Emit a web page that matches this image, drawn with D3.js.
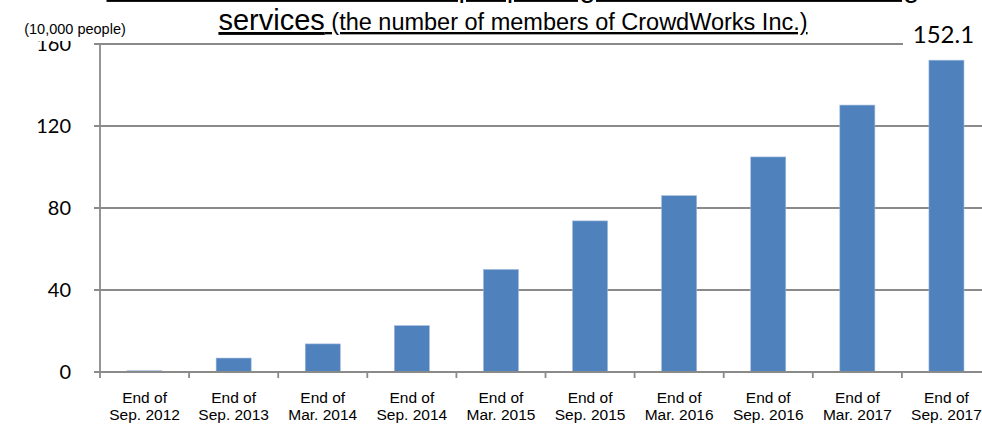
<!DOCTYPE html>
<html>
<head>
<meta charset="utf-8">
<script src="https://cdn.jsdelivr.net/npm/d3@7"></script>
<style>
  html, body { margin: 0; padding: 0; background: #fff; overflow: hidden; }
  svg { display: block; }
</style>
</head>
<body>
<svg id="chart" width="982" height="426"></svg>
<script>
// Registered members, in units of 10,000 people
const periods = ["Sep. 2012", "Sep. 2013", "Mar. 2014", "Sep. 2014", "Mar. 2015",
                 "Sep. 2015", "Mar. 2016", "Sep. 2016", "Mar. 2017", "Sep. 2017"];
const members = [0.6, 6.8, 13.7, 22.6, 50.0, 73.7, 86.0, 104.9, 130.2, 152.1];
const yTicks = [0, 40, 80, 120, 160];
const periodPrefix = "End of";
const unitLabel = "(10,000 people)";
const titleLine1 = "Transition in the number of people registered for crowdsourcing";
const titleLead = "services";
const titleNote = " (the number of members of CrowdWorks Inc.)";

const W = 982, H = 426;
const plot = { left: 100, right: 991, top: 44, bottom: 372 };
const sans = "'Liberation Sans', Arial, sans-serif";
const numFont = "Lato, 'Open Sans', sans-serif";
const gridColor = "#8a8a8a";
const barColor = "#4f81bd";

const svg = d3.select("#chart");

const x = d3.scaleBand()
  .domain(periods)
  .range([plot.left, plot.right])
  .paddingInner(0.607)
  .paddingOuter(0.3035);

const y = d3.scaleLinear()
  .domain([0, d3.max(yTicks)])
  .range([plot.bottom, plot.top]);

// horizontal gridlines (extend left past the axis as tick marks)
svg.append("g")
  .selectAll("line")
  .data(yTicks.filter(d => d > 0))
  .join("line")
  .attr("x1", plot.left - 6)
  .attr("x2", W)
  .attr("y1", d => y(d))
  .attr("y2", d => y(d))
  .attr("stroke", gridColor)
  .attr("stroke-width", 1.8);

// bars
svg.append("g")
  .selectAll("rect")
  .data(members)
  .join("rect")
  .attr("x", (d, i) => x(periods[i]))
  .attr("width", x.bandwidth())
  .attr("y", d => y(d))
  .attr("height", d => y(0) - y(d))
  .attr("fill", barColor)
  .attr("stroke", "#9db8da")
  .attr("stroke-width", 0.6);

// category axis with boundary ticks
const gap = x.step() * x.paddingInner() / 2;
svg.append("line")
  .attr("x1", plot.left - 6).attr("x2", W)
  .attr("y1", y(0)).attr("y2", y(0))
  .attr("stroke", gridColor).attr("stroke-width", 1.8);
svg.append("g")
  .selectAll("line")
  .data(periods.slice(1))
  .join("line")
  .attr("x1", d => x(d) - gap)
  .attr("x2", d => x(d) - gap)
  .attr("y1", y(0))
  .attr("y2", y(0) + 6)
  .attr("stroke", gridColor)
  .attr("stroke-width", 1.8);

// value axis
svg.append("line")
  .attr("x1", plot.left).attr("x2", plot.left)
  .attr("y1", y(d3.max(yTicks))).attr("y2", y(0) + 6)
  .attr("stroke", gridColor).attr("stroke-width", 1.8);

svg.append("g")
  .selectAll("text")
  .data(yTicks)
  .join("text")
  .attr("x", plot.left - 29)
  .attr("y", d => y(d))
  .attr("dy", "0.36em")
  .attr("text-anchor", "end")
  .attr("font-family", numFont)
  .attr("font-size", 20)
  .attr("fill", "#000")
  .text(d => d);

// unit label sits on a white box that trims the top tick label
svg.append("rect")
  .attr("x", 20).attr("y", 24).attr("width", 70).attr("height", 17)
  .attr("fill", "#fff");
svg.append("text")
  .attr("x", 75)
  .attr("y", 34)
  .attr("text-anchor", "middle")
  .attr("font-family", sans)
  .attr("font-size", 14.5)
  .attr("fill", "#000")
  .text(unitLabel);

// category labels
const catLabels = svg.append("g")
  .selectAll("text")
  .data(periods)
  .join("text")
  .attr("text-anchor", "middle")
  .attr("font-family", sans)
  .attr("font-size", 15.5)
  .attr("fill", "#000");
catLabels.append("tspan")
  .attr("x", d => x(d) + x.bandwidth() / 2)
  .attr("y", 403)
  .text(periodPrefix);
catLabels.append("tspan")
  .attr("x", d => x(d) + x.bandwidth() / 2)
  .attr("y", 420)
  .text(d => d);

// value label on the latest bar
const lastIdx = members.length - 1;
const lastX = x(periods[lastIdx]) + x.bandwidth() / 2;
svg.append("rect")
  .attr("x", 903).attr("y", 20).attr("width", W - 903).attr("height", 32)
  .attr("fill", "#fff");
svg.append("text")
  .attr("x", lastX - 3)
  .attr("y", y(members[lastIdx]) - 17)
  .attr("text-anchor", "middle")
  .attr("font-family", numFont)
  .attr("font-size", 24)
  .attr("fill", "#000")
  .text(d3.format(".1f")(members[lastIdx]));

// title (first line runs off the top edge)
svg.append("text")
  .attr("x", 513)
  .attr("y", -3)
  .attr("text-anchor", "middle")
  .attr("font-family", sans)
  .attr("font-size", 29)
  .attr("text-decoration", "underline")
  .attr("fill", "#000")
  .text(titleLine1);

const title2 = svg.append("text")
  .attr("x", 513)
  .attr("y", 30)
  .attr("text-anchor", "middle")
  .attr("font-family", sans)
  .attr("text-decoration", "underline")
  .attr("fill", "#000");
title2.append("tspan").attr("font-size", 29).text(titleLead);
title2.append("tspan").attr("font-size", 23.5).text(titleNote);
</script>
</body>
</html>
